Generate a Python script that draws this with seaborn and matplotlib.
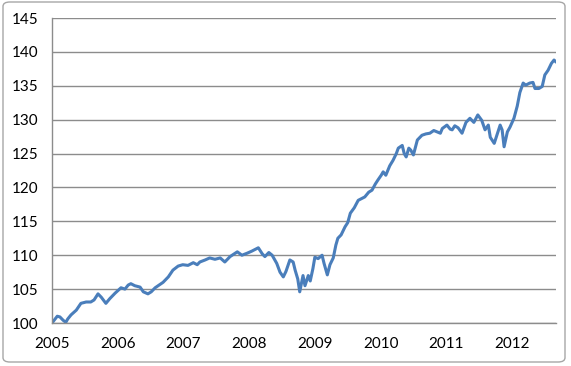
import matplotlib
matplotlib.use("Agg")
import matplotlib.pyplot as plt
import seaborn as sns
import pandas as pd
from matplotlib.patches import FancyBboxPatch

years = [2005.00, 2005.08, 2005.12, 2005.17, 2005.21, 2005.24, 2005.29, 2005.37, 2005.44, 2005.52,
         2005.59, 2005.64, 2005.70, 2005.75, 2005.82, 2005.88, 2005.96, 2006.05, 2006.11, 2006.16,
         2006.20, 2006.26, 2006.34, 2006.39, 2006.46, 2006.51, 2006.57, 2006.69, 2006.77, 2006.84,
         2006.92, 2006.99, 2007.07, 2007.15, 2007.21, 2007.25, 2007.33, 2007.40, 2007.48, 2007.56,
         2007.63, 2007.71, 2007.82, 2007.89, 2007.97, 2008.04, 2008.14, 2008.20, 2008.24, 2008.30,
         2008.35, 2008.42, 2008.47, 2008.52, 2008.56, 2008.62, 2008.67, 2008.70, 2008.74, 2008.77,
         2008.82, 2008.85, 2008.90, 2008.93, 2008.97, 2009.00, 2009.05, 2009.11, 2009.14, 2009.19,
         2009.23, 2009.28, 2009.32, 2009.35, 2009.40, 2009.46, 2009.50, 2009.54, 2009.60, 2009.66,
         2009.72, 2009.76, 2009.82, 2009.87, 2009.92, 2009.96, 2010.01, 2010.04, 2010.08, 2010.14,
         2010.19, 2010.24, 2010.27, 2010.30, 2010.33, 2010.36, 2010.39, 2010.43, 2010.46, 2010.50,
         2010.56, 2010.63, 2010.69, 2010.75, 2010.81, 2010.86, 2010.91, 2010.94, 2011.01, 2011.06,
         2011.09, 2011.13, 2011.18, 2011.24, 2011.30, 2011.36, 2011.42, 2011.48, 2011.54, 2011.59,
         2011.64, 2011.67, 2011.73, 2011.77, 2011.82, 2011.85, 2011.88, 2011.93, 2011.97, 2012.03,
         2012.08, 2012.12, 2012.17, 2012.21, 2012.27, 2012.32, 2012.35, 2012.41, 2012.46, 2012.50,
         2012.55, 2012.60, 2012.64, 2012.67]
values = [100.0, 101.0, 100.9, 100.4, 100.1, 100.6, 101.2, 101.9, 102.9, 103.1,
          103.1, 103.4, 104.3, 103.8, 102.9, 103.6, 104.4, 105.2, 105.0, 105.6,
          105.8, 105.5, 105.3, 104.6, 104.3, 104.6, 105.2, 106.0, 106.8, 107.8,
          108.4, 108.6, 108.5, 108.9, 108.6, 109.0, 109.3, 109.6, 109.4, 109.6,
          109.0, 109.8, 110.5, 110.0, 110.3, 110.6, 111.1, 110.2, 109.8, 110.4,
          110.0, 108.8, 107.5, 106.8, 107.6, 109.3, 109.0, 107.8, 106.5, 104.6,
          107.0, 105.5, 107.0, 106.2, 108.0, 109.7, 109.5, 110.0, 108.8, 107.1,
          108.6, 109.6, 111.5, 112.5, 113.0, 114.2, 114.8, 116.2, 117.0, 118.1,
          118.4, 118.6, 119.3, 119.6, 120.5, 121.1, 121.8, 122.3, 121.8, 123.2,
          124.0, 125.0, 125.8, 126.0, 126.2, 125.0, 124.5, 125.8, 125.5, 124.8,
          127.0, 127.7, 127.9, 128.0, 128.4, 128.2, 128.0, 128.7, 129.2, 128.6,
          128.5, 129.1, 128.8, 128.0, 129.6, 130.2, 129.6, 130.7, 129.9, 128.5,
          129.2, 127.4, 126.5, 127.7, 129.2, 128.5, 126.0, 128.2, 128.9, 130.2,
          132.0, 134.0, 135.4, 135.1, 135.4, 135.5, 134.6, 134.6, 134.9, 136.6,
          137.3, 138.3, 138.8, 138.5]

year_ticks = [2005, 2006, 2007, 2008, 2009, 2010, 2011, 2012]
value_ticks = [100, 105, 110, 115, 120, 125, 130, 135, 140, 145]

sns.set_style("white")
plt.rcParams['font.family'] = ['Lato', 'DejaVu Sans']

df = pd.DataFrame({"year": years, "value": values})

fig = plt.figure(figsize=(5.71, 3.66), dpi=100)
ax = fig.add_axes([52/571, 1-323/366, (556-52)/571, (323-18)/366])

sns.lineplot(data=df, x="year", y="value", ax=ax, color="#4A7EBB", linewidth=2.2)

ax.set_xlim(2005, 2012.67)
ax.set_ylim(100, 145)
ax.set_xticks(year_ticks)
ax.set_xticklabels([str(y) for y in year_ticks])
ax.set_yticks(value_ticks)
ax.set_yticklabels([str(v) for v in value_ticks])
ax.set_xlabel("")
ax.set_ylabel("")

ax.yaxis.grid(True, color="#8C8C8C", linewidth=1.0)
ax.xaxis.grid(False)
ax.set_axisbelow(True)
for s in ["top", "right"]:
    ax.spines[s].set_visible(False)
for s in ["left", "bottom"]:
    ax.spines[s].set_color("#8C8C8C")
    ax.spines[s].set_linewidth(1.0)
ax.tick_params(axis="both", which="major", direction="out", length=4, width=1,
               color="#8C8C8C", labelsize=11, labelcolor="#000000")
ax.tick_params(axis="y", pad=6)
ax.tick_params(axis="x", pad=6)

border = FancyBboxPatch((3/571, 4/366), 562/571, 360/366,
                        boxstyle="round,pad=0,rounding_size=0.012",
                        transform=fig.transFigure, fill=False,
                        edgecolor="#A6A6A6", linewidth=1.0)
fig.patches.append(border)

fig.savefig("out.png", dpi=100)
